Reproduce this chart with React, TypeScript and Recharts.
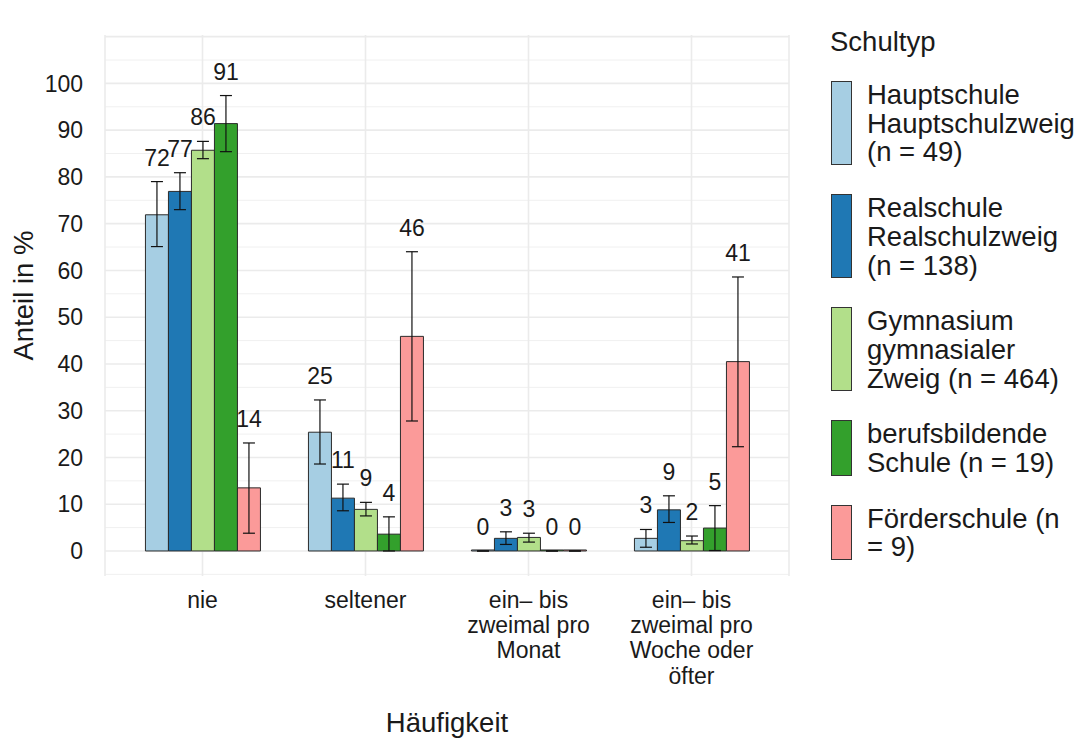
import { BarChart, Bar, XAxis, YAxis, CartesianGrid, ErrorBar } from "recharts";

const categories = [
  "nie",
  "seltener",
  "ein– bis\nzweimal pro\nMonat",
  "ein– bis\nzweimal pro\nWoche oder\nöfter",
];

const schoolNames = [
  "Hauptschule\nHauptschulzweig\n(n = 49)",
  "Realschule\nRealschulzweig\n(n = 138)",
  "Gymnasium\ngymnasialer\nZweig (n = 464)",
  "berufsbildende\nSchule (n = 19)",
  "Förderschule (n\n= 9)",
];
const schoolKeys = ["hs", "rs", "gy", "bb", "fs"];
const schoolColors = ["#A6CEE3", "#1F78B4", "#B2DF8A", "#33A02C", "#FB9A99"];

// percent per category (nie, seltener, monatlich, woechentlich)
const hauptschule = [71.9, 25.4, 0, 2.7];
const hauptschuleLo = [65.1, 18.6, 0, 0.8];
const hauptschuleHi = [79.0, 32.3, 0, 4.6];

const realschule = [76.9, 11.3, 2.7, 8.8];
const realschuleLo = [73.0, 8.6, 1.4, 6.1];
const realschuleHi = [80.9, 14.3, 4.1, 11.8];

const gymnasium = [85.7, 8.9, 2.9, 2.2];
const gymnasiumLo = [83.9, 7.5, 1.9, 1.5];
const gymnasiumHi = [87.6, 10.4, 3.8, 3.2];

const berufsschule = [91.4, 3.6, 0, 4.9];
const berufsschuleLo = [85.4, 0, 0, 0.1];
const berufsschuleHi = [97.4, 7.3, 0, 9.7];

const foerderschule = [13.5, 45.9, 0, 40.5];
const foerderschuleLo = [3.8, 27.8, 0, 22.3];
const foerderschuleHi = [23.1, 64.0, 0, 58.6];

const yTicks = [0, 10, 20, 30, 40, 50, 60, 70, 80, 90, 100];
const gridMajor = [0, 10, 20, 30, 40, 50, 60, 70, 80, 90, 100, 110];
const gridMinor = [-5, 5, 15, 25, 35, 45, 55, 65, 75, 85, 95, 105];

const series = [
  { v: hauptschule, lo: hauptschuleLo, hi: hauptschuleHi },
  { v: realschule, lo: realschuleLo, hi: realschuleHi },
  { v: gymnasium, lo: gymnasiumLo, hi: gymnasiumHi },
  { v: berufsschule, lo: berufsschuleLo, hi: berufsschuleHi },
  { v: foerderschule, lo: foerderschuleLo, hi: foerderschuleHi },
];

const data = categories.map((cat, i) => {
  const row: any = { cat };
  series.forEach((s, k) => {
    const key = schoolKeys[k];
    row[key] = s.v[i];
    row[key + "Err"] = [s.v[i] - s.lo[i], s.hi[i] - s.v[i]];
  });
  return row;
});

const W = 1087;
const H = 740;
const TOP = 35;
const BOTTOM = 164;
const Y_MIN = -5.35;
const Y_MAX = 110.35;
const PPU = (H - TOP - BOTTOM) / (Y_MAX - Y_MIN);
const FONT = "'Liberation Sans', Arial, Helvetica, sans-serif";
const INK = "#1a1a1a";
const TICK_SIZE = 23;
const TITLE_SIZE = 27.5;

const toPx = (scale: any, v: number) => {
  if (typeof scale === "function") return scale(v);
  if (scale && typeof scale.map === "function") return scale.map(v);
  return TOP + (Y_MAX - v) * PPU;
};

const gridGen = (vals: number[]) => (props: any) =>
  vals.map((v) => toPx(props?.yAxis?.scale, v));

const XTick = ({ x, y, payload }: any) => {
  const lines = String(payload.value).split("\n");
  return (
    <text x={x} y={y} textAnchor="middle" fontSize={TICK_SIZE} fill={INK} fontFamily={FONT}>
      {lines.map((l, i) => (
        <tspan key={i} x={x} dy={i === 0 ? 32 : 25.2}>
          {l}
        </tspan>
      ))}
    </text>
  );
};

const YTitle = ({ viewBox }: any) => {
  const cx = viewBox.x + 23;
  const cy = viewBox.y + viewBox.height / 2 - 10;
  return (
    <text
      x={cx}
      y={cy}
      dy="0.36em"
      textAnchor="middle"
      transform={`rotate(-90, ${cx}, ${cy})`}
      fontSize={TITLE_SIZE}
      fill={INK}
      fontFamily={FONT}
    >
      Anteil in %
    </text>
  );
};

const makeLabel = (vals: number[], hi: number[]) => (props: any) => {
  const { x, y, width, height, index } = props;
  const base = y + height;
  const upper = base - hi[index] * PPU;
  return (
    <text
      x={x + width / 2}
      y={upper - 16}
      textAnchor="middle"
      fontSize={TICK_SIZE}
      fill={INK}
      fontFamily={FONT}
    >
      {Math.round(vals[index])}
    </text>
  );
};

function LegendBox() {
  return (
    <div
      style={{
        position: "absolute",
        left: 831,
        top: 27,
        fontFamily: FONT,
        color: INK,
        fontSize: TITLE_SIZE,
      }}
    >
      <div style={{ lineHeight: "29px", marginBottom: 25, marginLeft: -1 }}>Schultyp</div>
      {schoolNames.map((name, k) => (
        <div key={k} style={{ display: "flex", alignItems: "stretch", marginBottom: 27 }}>
          <div
            style={{
              width: 21,
              background: schoolColors[k],
              border: "1px solid #333",
              boxSizing: "border-box",
              marginBottom: 2,
            }}
          />
          <div style={{ marginLeft: 15, lineHeight: "28.7px", whiteSpace: "pre" }}>{name}</div>
        </div>
      ))}
    </div>
  );
}

export default function App() {
  return (
    <div style={{ position: "absolute", left: 0, top: 0, width: W, height: H, background: "#fff" }}>
      <BarChart
        width={W}
        height={H}
        data={data}
        margin={{ top: TOP, right: 298, bottom: 0, left: 0 }}
        barCategoryGap="15%"
        barGap={0}
      >
        <CartesianGrid
          horizontal
          vertical={false}
          stroke="#f0f0f0"
          strokeWidth={1}
          horizontalCoordinatesGenerator={gridGen(gridMinor)}
        />
        <CartesianGrid
          horizontal
          vertical
          stroke="#ebebeb"
          strokeWidth={1.6}
          horizontalCoordinatesGenerator={gridGen(gridMajor)}
        />
        <XAxis
          dataKey="cat"
          interval={0}
          tick={<XTick />}
          tickLine={false}
          axisLine={false}
          tickSize={0}
          tickMargin={0}
          height={BOTTOM}
          padding={{ left: 16, right: 16 }}
          label={{
            value: "Häufigkeit",
            position: "insideBottom",
            offset: 8,
            fontSize: TITLE_SIZE,
            fill: INK,
            fontFamily: FONT,
          }}
        />
        <YAxis
          type="number"
          domain={[Y_MIN, Y_MAX]}
          allowDataOverflow
          ticks={yTicks}
          width={105}
          tickLine={false}
          axisLine={false}
          tickSize={0}
          tickMargin={22}
          tick={{ fontSize: TICK_SIZE, fill: INK, fontFamily: FONT }}
          label={{ content: <YTitle /> }}
        />
        {schoolKeys.map((key, k) => (
          <Bar
            key={key}
            dataKey={key}
            fill={schoolColors[k]}
            stroke="#2b2b2b"
            strokeWidth={1}
            minPointSize={1}
            isAnimationActive={false}
            label={makeLabel(series[k].v, series[k].hi)}
          >
            <ErrorBar dataKey={key + "Err"} width={6} stroke="#111" strokeWidth={1.2} direction="y" />
          </Bar>
        ))}
      </BarChart>
      <LegendBox />
    </div>
  );
}
